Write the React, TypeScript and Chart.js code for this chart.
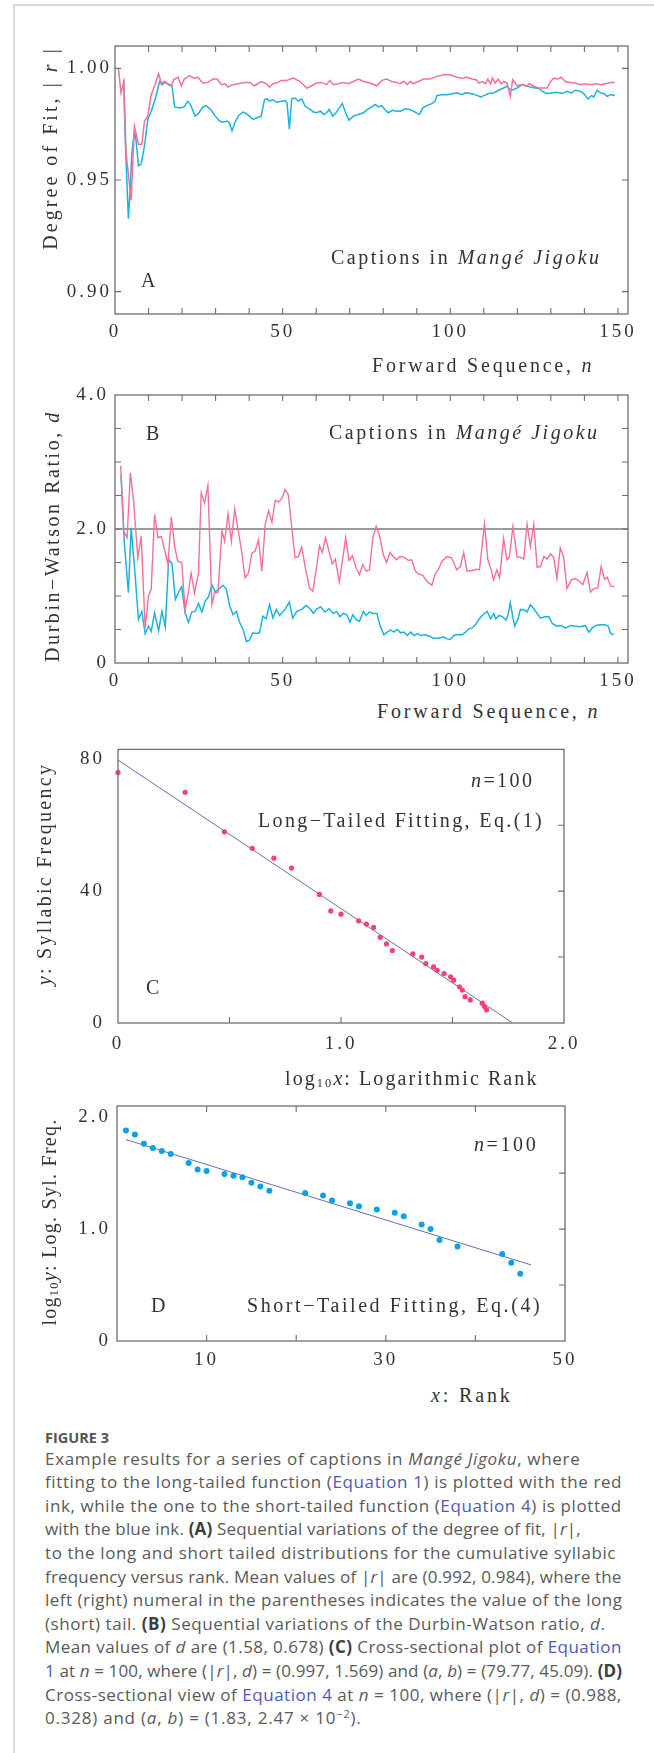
import React, { useEffect, useLayoutEffect, useRef } from 'react';
import { Chart, registerables } from 'chart.js';

Chart.register(...registerables);

type Pt = [number, number];

// ---------- Panel A: degree of fit |r| vs forward sequence n ----------
const fitLongA: Pt[] = [
  [1, 1.0], [1.8, 0.989], [2.6, 0.994], [3.3, 0.9623], [4.8, 0.941], [5.8, 0.9742], [7, 0.966], [8, 0.966],
  [8.8, 0.9764], [9.8, 0.9786], [10.8, 0.9882], [11.8, 0.992], [13, 0.9976], [13.8, 0.9934], [14.8, 0.9941],
  [15.8, 0.9927], [16.8, 0.992], [17.5, 0.995], [18.8, 0.996], [19.8, 0.9922], [20.7, 0.9952], [22.2, 0.9967],
  [23.5, 0.9956], [24.7, 0.996], [26.2, 0.9934], [27.7, 0.9937], [29.2, 0.9952], [30.5, 0.9952], [31.7, 0.9927],
  [32.9, 0.9931], [33.7, 0.9916], [35.2, 0.9927], [36.7, 0.9931], [38.6, 0.9937], [40.1, 0.9937], [41.6, 0.9922],
  [43.6, 0.9941], [45.1, 0.9931], [46.1, 0.9916], [47.1, 0.9931], [48.6, 0.9937], [49.6, 0.9946], [51.2, 0.9946],
  [53.2, 0.9956], [55.2, 0.9941], [57.2, 0.9912], [58.7, 0.9922], [60.1, 0.9934], [61.6, 0.9937], [63.1, 0.9927],
  [64.1, 0.9946], [65.1, 0.9927], [66.6, 0.9931], [68.1, 0.9937], [69.6, 0.9931], [71.1, 0.9941], [72.6, 0.9952],
  [74.1, 0.9941], [76.1, 0.9934], [78.1, 0.9922], [79.6, 0.9946], [81, 0.9952], [82.5, 0.9941], [84, 0.9937],
  [85, 0.9931], [86.2, 0.9941], [87.2, 0.9927], [88, 0.9941], [89, 0.9931], [90.5, 0.9941], [92, 0.9952],
  [94, 0.9952], [96, 0.9964], [98, 0.9971], [100, 0.9971], [102, 0.996], [103.5, 0.9956], [105, 0.996],
  [106.5, 0.9952], [107.7, 0.9949], [108.5, 0.9934], [109.5, 0.9941], [110.5, 0.9931], [111.2, 0.9952],
  [112, 0.9931], [112.6, 0.9956], [113.4, 0.9934], [114.2, 0.9952], [115.2, 0.9931], [115.9, 0.9941],
  [116.9, 0.9934], [117.9, 0.9875], [118.6, 0.9949], [119.9, 0.9922], [121.4, 0.9927], [122.6, 0.992],
  [123.6, 0.9931], [124.9, 0.992], [126.2, 0.9912], [127.6, 0.9912], [128.9, 0.9912], [129.9, 0.9941],
  [130.9, 0.9956], [132.1, 0.9952], [133.1, 0.996], [134.3, 0.9941], [135.8, 0.9937], [137.3, 0.9934],
  [138.8, 0.9927], [140.3, 0.9931], [141.8, 0.9927], [143.3, 0.9931], [144.8, 0.9927], [146.3, 0.9931],
  [147.8, 0.9937], [149.1, 0.9937],
];

const fitShortA: Pt[] = [
  [2.6, 0.995], [3, 0.97], [4, 0.9327], [4.6, 0.9475], [5, 0.9616], [5.8, 0.972], [6.3, 0.9675], [7, 0.9564],
  [7.8, 0.9571], [8.8, 0.9653], [9.8, 0.9771], [10.8, 0.9808], [12, 0.9863], [13.3, 0.9941], [14, 0.9927],
  [15, 0.9937], [16.3, 0.9927], [17, 0.992], [17.8, 0.9827], [18.8, 0.9823], [19.8, 0.9823], [20.7, 0.983],
  [21.7, 0.9853], [22.5, 0.9838], [23.9, 0.9786], [24.9, 0.9798], [26.2, 0.9827], [27.2, 0.9833], [28.7, 0.9812],
  [29.9, 0.9786], [31.2, 0.9764], [32.2, 0.9759], [33.5, 0.9764], [34.2, 0.9753], [34.9, 0.972], [35.7, 0.9756],
  [36.9, 0.9789], [38.2, 0.9804], [39.1, 0.9798], [40.1, 0.9786], [41.1, 0.9771], [42.4, 0.9779], [43.6, 0.9786],
  [44.6, 0.986], [45.4, 0.9863], [46.1, 0.9853], [47.1, 0.986], [48.1, 0.9848], [49.6, 0.9853], [50.8, 0.9856],
  [51.3, 0.9845], [52, 0.9727], [52.7, 0.9863], [53.7, 0.9867], [54.7, 0.9853], [55.7, 0.9863], [56.7, 0.983],
  [58.2, 0.9816], [59.2, 0.9804], [60.1, 0.9801], [61.3, 0.9808], [62.3, 0.9793], [63.1, 0.9801], [63.9, 0.9816],
  [64.9, 0.9786], [65.9, 0.9801], [66.9, 0.9823], [67.8, 0.9842], [68.6, 0.9808], [69.8, 0.9768], [71.1, 0.9786],
  [72.6, 0.9793], [74.1, 0.9801], [75.3, 0.9816], [76.6, 0.9827], [77.6, 0.9838], [78.6, 0.9827], [79.5, 0.9833],
  [80.5, 0.9816], [81.5, 0.9801], [82.8, 0.9812], [84, 0.9808], [85.2, 0.9808], [86.5, 0.9819], [88, 0.9816],
  [89.5, 0.9804], [90.8, 0.9793], [91.8, 0.9823], [93, 0.9833], [94.5, 0.9842], [95.5, 0.9853], [96, 0.9878],
  [97.5, 0.9882], [99, 0.9882], [101, 0.9887], [102, 0.989], [103.5, 0.9882], [104.5, 0.989], [106, 0.9887],
  [107.5, 0.9882], [109, 0.9872], [110, 0.9878], [111.4, 0.9887], [112.9, 0.989], [114.4, 0.9902], [115.9, 0.9912],
  [116.9, 0.992], [117.6, 0.9908], [118.4, 0.9902], [119.9, 0.9912], [121.4, 0.9927], [122.6, 0.9922],
  [123.9, 0.9916], [125.4, 0.9912], [126.6, 0.9908], [127.9, 0.9893], [128.9, 0.9887], [130.4, 0.989],
  [131.8, 0.9893], [133.3, 0.9887], [134.8, 0.9897], [136.1, 0.989], [137.3, 0.9902], [138.8, 0.9897],
  [139.8, 0.9887], [141.1, 0.9863], [142.1, 0.9878], [142.8, 0.9872], [143.8, 0.9902], [144.8, 0.989],
  [145.8, 0.9887], [146.8, 0.9875], [147.8, 0.9882], [149.1, 0.9878],
];

// ---------- Panel B: Durbin-Watson ratio d vs forward sequence n ----------
const dwLongB: Pt[] = [
  [1.7, 2.94], [2.6, 1.97], [3.6, 1.87], [4.6, 2.84], [5.6, 2.39], [6.8, 1.57], [7.8, 1.89], [9, 0.52], [10, 1.0],
  [10.8, 1.1], [11.8, 2.22], [12.8, 1.87], [13.8, 1.89], [14.8, 1.69], [15.8, 1.47], [16.8, 2.18], [17.8, 1.74],
  [18.7, 1.52], [19.9, 1.5], [20.9, 0.8], [21.7, 1.0], [22.7, 1.34], [23.7, 1.05], [24.9, 1.34], [25.7, 2.54],
  [26.7, 2.39], [27.7, 2.65], [28.9, 0.87], [29.7, 1.05], [30.7, 1.05], [31.9, 1.97], [32.7, 1.82], [33.7, 2.22],
  [34.7, 1.82], [35.7, 2.3], [36.7, 1.99], [37.7, 1.69], [38.8, 1.27], [39.8, 1.34], [40.8, 1.64], [41.8, 1.67],
  [42.8, 1.84], [43.8, 1.37], [44.8, 2.07], [45.8, 2.27], [46.8, 2.1], [47.8, 2.43], [48.8, 2.4], [49.8, 2.46],
  [50.7, 2.59], [51.7, 2.51], [52.7, 2.04], [53.7, 1.57], [54.7, 1.59], [55.7, 1.73], [56.7, 1.44], [58, 1.12],
  [59, 1.07], [60, 1.39], [61, 1.75], [61.8, 1.65], [62.8, 1.87], [63.8, 1.67], [64.8, 1.48], [65.7, 1.55],
  [66.9, 1.21], [67.9, 1.55], [68.8, 1.87], [69.8, 1.53], [70.8, 1.6], [71.9, 1.42], [72.9, 1.32], [73.9, 1.47],
  [74.9, 1.37], [75.9, 1.39], [76.9, 1.87], [77.9, 2.04], [78.9, 1.9], [80, 1.62], [81, 1.5], [82, 1.65],
  [83, 1.59], [84, 1.54], [85, 1.59], [86.2, 1.58], [87.5, 1.53], [88.5, 1.54], [89.5, 1.38], [90.5, 1.33],
  [91.8, 1.31], [93, 1.22], [94.5, 1.16], [95.5, 1.33], [96.5, 1.4], [97.5, 1.52], [99, 1.59], [100.4, 1.57],
  [101.9, 1.39], [103, 1.44], [104, 1.65], [105, 1.37], [106.5, 1.38], [108, 1.4], [108.7, 1.39], [110.2, 2.08],
  [111.2, 1.54], [112.2, 1.39], [112.9, 1.24], [113.9, 1.39], [114.7, 1.27], [115.9, 1.86], [116.9, 1.54],
  [117.6, 1.58], [118.7, 2.04], [119.9, 1.58], [120.9, 1.58], [121.9, 1.55], [122.9, 2.07], [123.9, 1.74],
  [124.9, 2.07], [125.9, 1.43], [126.9, 1.44], [127.9, 1.59], [128.9, 1.55], [129.9, 1.63], [130.9, 1.57],
  [131.8, 1.26], [132.8, 1.72], [133.8, 1.58], [134.8, 1.11], [136.1, 1.24], [137.3, 1.26], [138.5, 1.22],
  [139.5, 1.17], [140.8, 1.35], [141.8, 1.06], [142.8, 1.11], [144, 1.12], [145, 1.44], [146, 1.25], [146.8, 1.28],
  [147.8, 1.15], [149, 1.14],
];

const dwShortB: Pt[] = [
  [1.8, 2.8], [2.8, 1.79], [4, 1.05], [4.8, 2.02], [5.8, 1.44], [7, 0.65], [8, 0.77], [9, 0.44], [10, 0.55],
  [10.8, 0.47], [11.8, 0.75], [13, 0.48], [14, 0.77], [15, 0.54], [16, 1.55], [17, 1.48], [18, 0.95], [19, 1.06],
  [19.9, 1.14], [20.9, 0.75], [21.9, 0.61], [22.9, 0.76], [23.9, 0.77], [24.9, 0.89], [25.9, 0.76], [26.9, 0.92],
  [27.9, 0.99], [28.9, 1.17], [29.9, 1.06], [30.9, 1.1], [32.2, 1.16], [33.2, 1.1], [34.2, 0.85], [35.2, 0.72],
  [36.2, 0.77], [37.2, 0.6], [38.2, 0.5], [39.2, 0.32], [40.1, 0.34], [41.1, 0.45], [42.1, 0.44], [43.1, 0.45],
  [44.1, 0.7], [45.1, 0.66], [46.1, 0.87], [47.1, 0.67], [48.1, 0.8], [49.1, 0.71], [50.7, 0.8], [52, 0.91],
  [53, 0.67], [54.2, 0.77], [55.7, 0.8], [57, 0.86], [58.2, 0.81], [59.2, 0.74], [60.1, 0.8], [61.3, 0.84],
  [62.6, 0.76], [63.9, 0.81], [65.1, 0.74], [66.1, 0.77], [67.1, 0.69], [68.1, 0.74], [69.1, 0.72], [70.1, 0.61],
  [70.9, 0.72], [71.9, 0.65], [72.9, 0.62], [74.1, 0.77], [74.9, 0.71], [75.9, 0.76], [76.9, 0.74], [78.1, 0.74],
  [79.1, 0.55], [80.2, 0.42], [81.2, 0.46], [82.2, 0.49], [83.2, 0.46], [84.2, 0.5], [85.2, 0.45], [86.2, 0.46],
  [87.2, 0.41], [88.2, 0.46], [89.2, 0.41], [90.2, 0.44], [91.2, 0.41], [92.5, 0.42], [93.8, 0.4], [95, 0.37],
  [96.5, 0.37], [98, 0.39], [99, 0.36], [100, 0.35], [101, 0.41], [102, 0.42], [103.5, 0.42], [104.5, 0.46],
  [105.5, 0.51], [106.5, 0.52], [107.5, 0.57], [108.5, 0.65], [109.5, 0.71], [110.5, 0.75], [111, 0.77],
  [112, 0.66], [113, 0.74], [113.6, 0.66], [114.6, 0.71], [115.6, 0.69], [116.6, 0.64], [117.2, 0.71],
  [117.9, 0.9], [118.6, 0.7], [119.2, 0.55], [120.2, 0.66], [120.9, 0.8], [122.2, 0.79], [122.9, 0.76],
  [123.9, 0.87], [124.9, 0.81], [125.9, 0.74], [126.9, 0.67], [128.2, 0.69], [129.4, 0.69], [130.4, 0.59],
  [131.8, 0.55], [133.1, 0.56], [134.5, 0.52], [135.8, 0.56], [137.3, 0.55], [138.8, 0.54], [140.3, 0.56],
  [141.3, 0.46], [142.3, 0.52], [143.5, 0.56], [144.8, 0.57], [146.1, 0.57], [147.1, 0.55], [147.8, 0.44],
  [148.8, 0.42],
];
const dwRefX = [0, 153];
const dwRefY = [2.0, 2.0];

// ---------- Panels C & D: cross-section at n = 100 ----------
const ranks = [1, 2, 3, 4, 5, 6, 8, 9, 10, 12, 13, 14, 15, 16, 17, 21, 23, 24, 26, 27, 29, 31, 32, 34, 35, 36, 38, 43, 44, 45];
const freqs = [76, 70, 58, 53, 50, 47, 39, 34, 33, 31, 30, 29, 26, 24, 22, 21, 20, 18, 17, 16, 15, 14, 13, 11, 10, 8, 7, 6, 5, 4];
const longFitLogX = [0, 1.77];
const longFitY = [79.77, 0];
const shortFitX = [1, 46.2];
const shortFitLogY = [1.8, 0.68];

// ---------- tick values / labels ----------
const seqTickVals = [0, 50, 100, 150];
const seqTickText = ['0', '50', '100', '150'];
const seqMinor = [10, 20, 30, 40, 50, 60, 70, 80, 90, 100, 110, 120, 130, 140, 150];
const aYTickVals = [0.9, 0.95, 1.0];
const aYTickText = ['0.90', '0.95', '1.00'];
const bYTickVals = [0, 2, 4];
const bYTickText = ['0', '2.0', '4.0'];
const bYMinor = [0.5, 1, 1.5, 2, 2.5, 3, 3.5];
const cXTickVals = [0, 1, 2];
const cXTickText = ['0', '1.0', '2.0'];
const cXMinor = [0.5, 1, 1.5];
const cYTickVals = [0, 40, 80];
const cYTickText = ['0', '40', '80'];
const cYMinor = [20, 40, 60];
const dXTickVals = [10, 30, 50];
const dXTickText = ['10', '30', '50'];
const dXMinor = [10, 20, 30, 40];
const dYTickVals = [0, 1, 2];
const dYTickText = ['0', '1.0', '2.0'];
const dYMinor = [0.5, 1, 1.5];

const PINK = '#f4709c';
const CYAN = '#1ab3dd';
const DOT_RED = '#f43f7e';
const DOT_BLUE = '#0ca1e0';
const FIT = '#5f70b8';
const TEXT = '#333333';
const FRAME = '#6e6e6e';
const SERIF = "'Liberation Serif', 'Times New Roman', serif";
const SANS = "'Open Sans', 'Noto Sans', sans-serif";

const toXY = (pts: Pt[]) => pts.map(([x, y]) => ({ x, y }));
const zipXY = (xs: number[], ys: number[]) => xs.map((x, i) => ({ x, y: ys[i] }));

const lineDs = (data: any[], color: string, width: number, order: number) => ({
  data,
  showLine: true,
  borderColor: color,
  backgroundColor: color,
  borderWidth: width,
  pointRadius: 0,
  tension: 0,
  order,
});
const dotDs = (data: any[], color: string, r: number, order: number) => ({
  data,
  showLine: false,
  backgroundColor: color,
  borderWidth: 0,
  pointRadius: r,
  clip: false,
  order,
});

interface Panel {
  key: string;
  top: number;
  height: number;
  area: { left: number; right: number; top: number; bottom: number };
  xMin: number; xMax: number; xVals: number[]; xText: string[]; xPad: number;
  yMin: number; yMax: number; yVals: number[]; yText: string[]; yPad: number;
  xMinor: number[]; xTop: boolean; xBottom: boolean;
  yMinor: number[]; yLeft: boolean; yRight: boolean;
  datasets: any[];
}

const panels: Panel[] = [
  {
    key: 'A', top: 30, height: 330,
    area: { left: 115, right: 628, top: 46, bottom: 314 },
    xMin: 0, xMax: 153, xVals: seqTickVals, xText: seqTickText, xPad: 7,
    yMin: 0.89, yMax: 1.01, yVals: aYTickVals, yText: aYTickText, yPad: 3,
    xMinor: seqMinor, xTop: true, xBottom: true, yMinor: aYTickVals, yLeft: true, yRight: true,
    datasets: [lineDs(toXY(fitLongA), PINK, 1.5, 1), lineDs(toXY(fitShortA), CYAN, 1.5, 2)],
  },
  {
    key: 'B', top: 370, height: 330,
    area: { left: 115, right: 628, top: 395, bottom: 663 },
    xMin: 0, xMax: 153, xVals: seqTickVals, xText: seqTickText, xPad: 7,
    yMin: 0, yMax: 4, yVals: bYTickVals, yText: bYTickText, yPad: 6,
    xMinor: seqMinor, xTop: true, xBottom: true, yMinor: bYMinor, yLeft: true, yRight: true,
    datasets: [
      lineDs(toXY(dwLongB), PINK, 1.4, 1),
      lineDs(toXY(dwShortB), CYAN, 1.5, 2),
      lineDs(zipXY(dwRefX, dwRefY), '#7a7a7a', 1.3, 3),
    ],
  },
  {
    key: 'C', top: 725, height: 345,
    area: { left: 118, right: 564, top: 745, bottom: 1023 },
    xMin: 0, xMax: 2, xVals: cXTickVals, xText: cXTickText, xPad: 10,
    yMin: 0, yMax: 83, yVals: cYTickVals, yText: cYTickText, yPad: 13,
    xMinor: cXMinor, xTop: false, xBottom: true, yMinor: cYMinor, yLeft: false, yRight: true,
    datasets: [
      dotDs(ranks.map((r, i) => ({ x: Math.log10(r), y: freqs[i] })), DOT_RED, 2.6, 1),
      lineDs(zipXY(longFitLogX, longFitY), FIT, 1, 2),
    ],
  },
  {
    key: 'D', top: 1080, height: 300,
    area: { left: 117, right: 565, top: 1106, bottom: 1341 },
    xMin: 0, xMax: 50, xVals: dXTickVals, xText: dXTickText, xPad: 8,
    yMin: 0, yMax: 2.1, yVals: dYTickVals, yText: dYTickText, yPad: 6,
    xMinor: dXMinor, xTop: true, xBottom: true, yMinor: dYMinor, yLeft: false, yRight: true,
    datasets: [
      dotDs(ranks.map((r, i) => ({ x: r, y: Math.log10(freqs[i]) })), DOT_BLUE, 3, 1),
      lineDs(zipXY(shortFitX, shortFitLogY), FIT, 1, 2),
    ],
  },
];

const Y_W = 60;
const X_H = 30;

function makeFramePlugin(p: Panel) {
  return {
    id: 'frameTicks' + p.key,
    beforeDraw(chart: any) {
      (chart.ctx as any).letterSpacing = '3px';
    },
    afterDraw(chart: any) {
      const ctx = chart.ctx as CanvasRenderingContext2D;
      const a = chart.chartArea;
      const xs = chart.scales.x;
      const ys = chart.scales.y;
      const L = 6;
      ctx.save();
      (ctx as any).letterSpacing = '0px';
      ctx.strokeStyle = FRAME;
      ctx.lineWidth = 1.3;
      ctx.strokeRect(a.left, a.top, a.right - a.left, a.bottom - a.top);
      ctx.beginPath();
      for (const v of p.xMinor) {
        const px = xs.getPixelForValue(v);
        if (p.xBottom) { ctx.moveTo(px, a.bottom); ctx.lineTo(px, a.bottom - L); }
        if (p.xTop) { ctx.moveTo(px, a.top); ctx.lineTo(px, a.top + L); }
      }
      for (const v of p.yMinor) {
        const py = ys.getPixelForValue(v);
        if (p.yLeft) { ctx.moveTo(a.left, py); ctx.lineTo(a.left + L, py); }
        if (p.yRight) { ctx.moveTo(a.right, py); ctx.lineTo(a.right - L, py); }
      }
      ctx.lineWidth = 1.1;
      ctx.stroke();
      ctx.restore();
    },
  };
}

function buildConfig(p: Panel): any {
  const tickFont = { family: SERIF, size: 19 };
  return {
    type: 'scatter',
    data: { datasets: p.datasets },
    plugins: [makeFramePlugin(p)],
    options: {
      responsive: false,
      animation: false,
      events: [],
      layout: {
        padding: {
          left: p.area.left - Y_W,
          right: 654 - p.area.right,
          top: p.area.top - p.top,
          bottom: p.top + p.height - p.area.bottom - X_H,
        },
      },
      plugins: { legend: { display: false }, tooltip: { enabled: false }, title: { display: false } },
      scales: {
        x: {
          type: 'linear',
          min: p.xMin,
          max: p.xMax,
          afterBuildTicks: (s: any) => { s.ticks = p.xVals.map((v) => ({ value: v })); },
          afterFit: (s: any) => { s.height = X_H; },
          grid: { display: false, drawTicks: false },
          border: { display: false },
          ticks: {
            font: tickFont, color: TEXT, padding: p.xPad, autoSkip: false, maxRotation: 0, minRotation: 0,
            callback: (_v: any, i: number) => p.xText[i],
          },
        },
        y: {
          type: 'linear',
          min: p.yMin,
          max: p.yMax,
          afterBuildTicks: (s: any) => { s.ticks = p.yVals.map((v) => ({ value: v })); },
          afterFit: (s: any) => { s.width = Y_W; },
          grid: { display: false, drawTicks: false },
          border: { display: false },
          ticks: {
            font: tickFont, color: TEXT, padding: p.yPad, autoSkip: false,
            callback: (_v: any, i: number) => p.yText[i],
          },
        },
      },
    },
  };
}

function PanelChart({ p }: { p: Panel }) {
  const ref = useRef<HTMLCanvasElement>(null);
  useEffect(() => {
    if (!ref.current) return;
    const chart = new Chart(ref.current, buildConfig(p));
    return () => chart.destroy();
  }, [p]);
  return (
    <canvas
      ref={ref}
      width={654}
      height={p.height}
      style={{ position: 'absolute', left: 0, top: p.top, width: 654, height: p.height }}
    />
  );
}

function Fit({ w, children }: { w: number; children: React.ReactNode }) {
  const ref = useRef<HTMLSpanElement>(null);
  useLayoutEffect(() => {
    const el = ref.current;
    if (!el) return;
    el.style.letterSpacing = '0px';
    const natural = el.offsetWidth;
    const n = (el.textContent || '').length;
    if (n > 0) el.style.letterSpacing = (w - natural) / n + 'px';
  }, [w]);
  return (
    <span ref={ref} style={{ display: 'inline-block', whiteSpace: 'nowrap' }}>
      {children}
    </span>
  );
}

function HText({ left, right, cy, children }: { left: number; right?: number; cy: number; children: React.ReactNode }) {
  return (
    <div
      style={{
        position: 'absolute', left, top: cy, transform: 'translateY(-50%)', whiteSpace: 'nowrap',
        fontFamily: SERIF, fontSize: 20, color: TEXT, lineHeight: 1,
      }}
    >
      {right != null ? <Fit w={right - left}>{children}</Fit> : children}
    </div>
  );
}

function VText({ cx, cy, len, children }: { cx: number; cy: number; len: number; children: React.ReactNode }) {
  return (
    <div
      style={{
        position: 'absolute', left: cx, top: cy, transform: 'translate(-50%, -50%) rotate(-90deg)',
        whiteSpace: 'nowrap', fontFamily: SERIF, fontSize: 20, color: TEXT, lineHeight: 1,
      }}
    >
      <Fit w={len}>{children}</Fit>
    </div>
  );
}

const subStyle: React.CSSProperties = { fontSize: '0.62em', verticalAlign: '-0.2em', lineHeight: 0 };
const LINK = '#4f58b8';
const Lk = ({ children }: { children: React.ReactNode }) => <span style={{ color: LINK }}>{children}</span>;
const Bd = ({ children }: { children: React.ReactNode }) => <b style={{ color: '#3d3d3d' }}>{children}</b>;

const captionLines: React.ReactNode[] = [
  <>Example results for a series of captions in <i>Mangé Jigoku</i>, where</>,
  <>fitting to the long-tailed function (<Lk>Equation 1</Lk>) is plotted with the red</>,
  <>ink, while the one to the short-tailed function (<Lk>Equation 4</Lk>) is plotted</>,
  <>with the blue ink. <Bd>(A)</Bd> Sequential variations of the degree of fit, |<i>r</i>|,</>,
  <>to the long and short tailed distributions for the cumulative syllabic</>,
  <>frequency versus rank. Mean values of |<i>r</i>| are (0.992, 0.984), where the</>,
  <>left (right) numeral in the parentheses indicates the value of the long</>,
  <>(short) tail. <Bd>(B)</Bd> Sequential variations of the Durbin-Watson ratio, <i>d</i>.</>,
  <>Mean values of <i>d</i> are (1.58, 0.678) <Bd>(C)</Bd> Cross-sectional plot of <Lk>Equation</Lk></>,
  <><Lk>1</Lk> at <i>n</i> = 100, where (|<i>r</i>|, <i>d</i>) = (0.997, 1.569) and (<i>a</i>, <i>b</i>) = (79.77, 45.09). <Bd>(D)</Bd></>,
  <>Cross-sectional view of <Lk>Equation 4</Lk> at <i>n</i> = 100, where (|<i>r</i>|, <i>d</i>) = (0.988,</>,
  <>0.328) and (<i>a</i>, <i>b</i>) = (1.83, 2.47 × 10<sup style={{ fontSize: '0.65em', verticalAlign: '0.55em', lineHeight: 0 }}>−2</sup>).</>,
];
const captionRight = [580, 622, 622, 581, 616, 622, 622, 605, 622, 622, 622, 362];

export default function App() {
  return (
    <div style={{ position: 'absolute', left: 0, top: 0, width: 654, height: 1753, overflow: 'hidden', background: '#fff' }}>
      <div
        style={{
          position: 'absolute', left: 13, top: 4, width: 700, height: 1800,
          borderTop: '2px solid #dadada', borderLeft: '2px solid #dadada',
        }}
      />
      {panels.map((p) => (
        <PanelChart key={p.key} p={p} />
      ))}

      {/* Panel A texts */}
      <VText cx={50} cy={148} len={203}>Degree of Fit, | <i>r</i> |</VText>
      <HText left={331} right={602} cy={256.7}>Captions in <i>Mangé Jigoku</i></HText>
      <HText left={141} cy={280}>A</HText>
      <HText left={372} right={594} cy={365}>Forward Sequence, <i>n</i></HText>

      {/* Panel B texts */}
      <VText cx={52} cy={536} len={252}>Durbin−Watson Ratio, <i>d</i></VText>
      <HText left={146} cy={433}>B</HText>
      <HText left={329} right={600} cy={432}>Captions in <i>Mangé Jigoku</i></HText>
      <HText left={377} right={600} cy={711}>Forward Sequence, <i>n</i></HText>

      {/* Panel C texts */}
      <VText cx={44} cy={874} len={222}><i>y</i>: Syllabic Frequency</VText>
      <HText left={471} right={534} cy={780}><i>n</i>=100</HText>
      <HText left={258} right={544} cy={820}>Long−Tailed Fitting, Eq.(1)</HText>
      <HText left={146} cy={987}>C</HText>
      <HText left={285} right={538} cy={1078}>log<sub style={subStyle}>10</sub><i>x</i>: Logarithmic Rank</HText>

      {/* Panel D texts */}
      <VText cx={49} cy={1221.5} len={207}>log<sub style={subStyle}>10</sub><i>y</i>: Log. Syl. Freq.</VText>
      <HText left={474} right={538} cy={1144}><i>n</i>=100</HText>
      <HText left={151} cy={1305}>D</HText>
      <HText left={247} right={542} cy={1305}>Short−Tailed Fitting, Eq.(4)</HText>
      <HText left={431} right={513} cy={1395}><i>x</i>: Rank</HText>

      {/* Caption */}
      <div
        style={{
          position: 'absolute', left: 45, top: 1428.4, fontFamily: SANS, fontWeight: 700, fontSize: 14.5,
          lineHeight: '20px', color: '#555', whiteSpace: 'nowrap',
        }}
      >
        <Fit w={64}>FIGURE 3</Fit>
      </div>
      {captionLines.map((ln, i) => (
        <div
          key={i}
          style={{
            position: 'absolute', left: 45, top: 1446.5 + i * 23.6, fontFamily: SANS, fontSize: 17,
            lineHeight: '23.6px', color: '#595959', whiteSpace: 'nowrap',
          }}
        >
          <Fit w={captionRight[i] - 45}>{ln}</Fit>
        </div>
      ))}
    </div>
  );
}
